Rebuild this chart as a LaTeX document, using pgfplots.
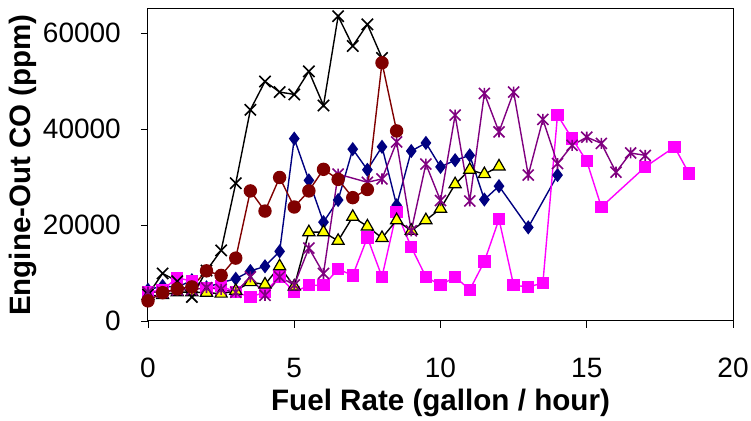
\documentclass[border=0pt]{standalone}
\usepackage{fontspec}
\setmainfont{Liberation Sans}
\usepackage{pgfplots}
\pgfplotsset{compat=1.18}
\definecolor{cnavy}{HTML}{000080}
\definecolor{cmag}{HTML}{FF00FF}
\definecolor{cyel}{HTML}{FFFF00}
\definecolor{cpur}{HTML}{800080}
\definecolor{cred}{HTML}{800000}
\pgfdeclareplotmark{xstar}{%
  \pgfpathmoveto{\pgfqpoint{-\pgfplotmarksize}{-\pgfplotmarksize}}%
  \pgfpathlineto{\pgfqpoint{\pgfplotmarksize}{\pgfplotmarksize}}%
  \pgfpathmoveto{\pgfqpoint{-\pgfplotmarksize}{\pgfplotmarksize}}%
  \pgfpathlineto{\pgfqpoint{\pgfplotmarksize}{-\pgfplotmarksize}}%
  \pgfpathmoveto{\pgfqpoint{0pt}{-\pgfplotmarksize}}%
  \pgfpathlineto{\pgfqpoint{0pt}{\pgfplotmarksize}}%
  \pgfusepathqstroke}
\begin{document}
\begin{tikzpicture}
\begin{axis}[
  scale only axis, width=585pt, height=312pt,
  xmin=0, xmax=20, ymin=0, ymax=65000,
  xtick={0,5,10,15,20}, ytick={0,20000,40000,60000},
  tick pos=left, tick align=outside, major tick length=7pt,
  tick style={line width=0.9pt, black},
  axis line style={line width=1pt, black},
  scaled y ticks=false,
  /pgf/number format/.cd, 1000 sep={}, assume math mode=true,
  /pgfplots/.cd,
  ticklabel style={font=\fontsize{28}{28}\selectfont},
  xticklabel style={anchor=north, inner sep=0pt, yshift=-30pt},
  yticklabel style={anchor=east, inner sep=0pt, xshift=-20pt},
  xlabel={Fuel Rate (gallon / hour)},
  ylabel={Engine-Out CO (ppm)},
  xlabel style={font=\bfseries\fontsize{29.6}{29.6}\selectfont, at={(axis description cs:0.5,0)}, anchor=center, yshift=-82pt},
  ylabel style={font=\bfseries\fontsize{29.5}{29.5}\selectfont, at={(axis description cs:0,0.5)}, anchor=center, yshift=125pt},
  every axis plot/.append style={line width=1.4pt},
]
% navy diamonds
\addplot[color=cnavy, mark=diamond*, mark size=6pt, mark options={solid}] coordinates {
(0,6500)(0.5,7300)(1,7000)(1.5,8500)(2,7000)(2.5,8000)(3,8800)(3.5,10400)(4,11400)(4.5,14500)
(5,38000)(5.5,29300)(6,20600)(6.5,25200)(7,35800)(7.5,31500)(8,36300)(8.5,24100)(9,35400)(9.5,37100)
(10,32100)(10.5,33500)(11,34500)(11.5,25300)(12,28100)(13,19500)(14,30400)};
% magenta squares
\addplot[color=cmag, mark=square*, mark size=5.5pt] coordinates {
(0,6000)(0.5,6500)(1,9000)(1.5,8300)(2,6800)(2.5,7300)(3,6000)(3.5,5000)(4,6000)(4.5,9300)
(5,6000)(5.5,7450)(6,7450)(6.5,10800)(7,9500)(7.5,17400)(8,9200)(8.5,22700)(9,15400)(9.5,9200)
(10,7450)(10.5,9200)(11,6500)(11.5,12400)(12,21200)(12.5,7450)(13,7100)(13.5,7900)(14,42900)(14.5,38000)
(15,33300)(15.5,23750)(17,32100)(18,36250)(18.5,30700)};
% yellow triangles
\addplot[color=black, mark=triangle*, mark size=7pt, mark options={fill=cyel, draw=black, line width=1.2pt}] coordinates {
(0,5200)(0.5,5400)(1,6000)(1.5,6000)(2,5900)(2.5,5700)(3,6300)(3.5,8100)(4,7600)(4.5,11400)
(5,7200)(5.5,18500)(6,18500)(6.5,16700)(7,21700)(7.5,19700)(8,17300)(8.5,21000)(9,18800)(9.5,21000)
(10,23400)(10.5,28500)(11,31500)(11.5,30600)(12,32200)};
% black x
\addplot[color=black, mark=x, mark size=8pt, mark options={line width=1.6pt}] coordinates {
(0,5500)(0.5,9900)(1,8300)(1.5,5000)(2,10500)(2.5,14700)(3,28700)(3.5,44000)(4,49900)(4.5,47700)
(5,47200)(5.5,52000)(6,44900)(6.5,63500)(7,57300)(7.5,61800)(8,54800)};
% purple asterisks
\addplot[color=cpur, mark=xstar, mark size=5.5pt, mark options={line width=1.6pt}] coordinates {
(0,6000)(0.5,6000)(1,6500)(1.5,6500)(2,6950)(2.5,6600)(3,6000)(3.5,9200)(4,5350)(4.5,9200)
(5,7500)(5.5,15200)(6,9900)(6.5,30600)(7.5,28900)(8,29600)(8.5,37300)(9,18800)(9.5,32700)
(10,25100)(10.5,42900)(11,25000)(11.5,47400)(12,39400)(12.5,47700)(13,30400)(13.5,42000)(14,32800)(14.5,36600)
(15,38300)(15.5,37000)(16,31000)(16.5,35000)(17,34500)};
% dark red circles
\addplot[color=cred, mark=*, mark size=6pt] coordinates {
(0,4200)(0.5,5900)(1,6700)(1.5,7100)(2,10450)(2.5,9500)(3,13100)(3.5,27100)(4,22900)(4.5,29900)
(5,23750)(5.5,27100)(6,31600)(6.5,29500)(7,25700)(7.5,27400)(8,53800)(8.5,39600)};
\end{axis}
\path ([xshift=-148pt,yshift=-99pt]current axis.south west) rectangle ([xshift=18pt,yshift=9pt]current axis.north east);
\end{tikzpicture}
\end{document}
